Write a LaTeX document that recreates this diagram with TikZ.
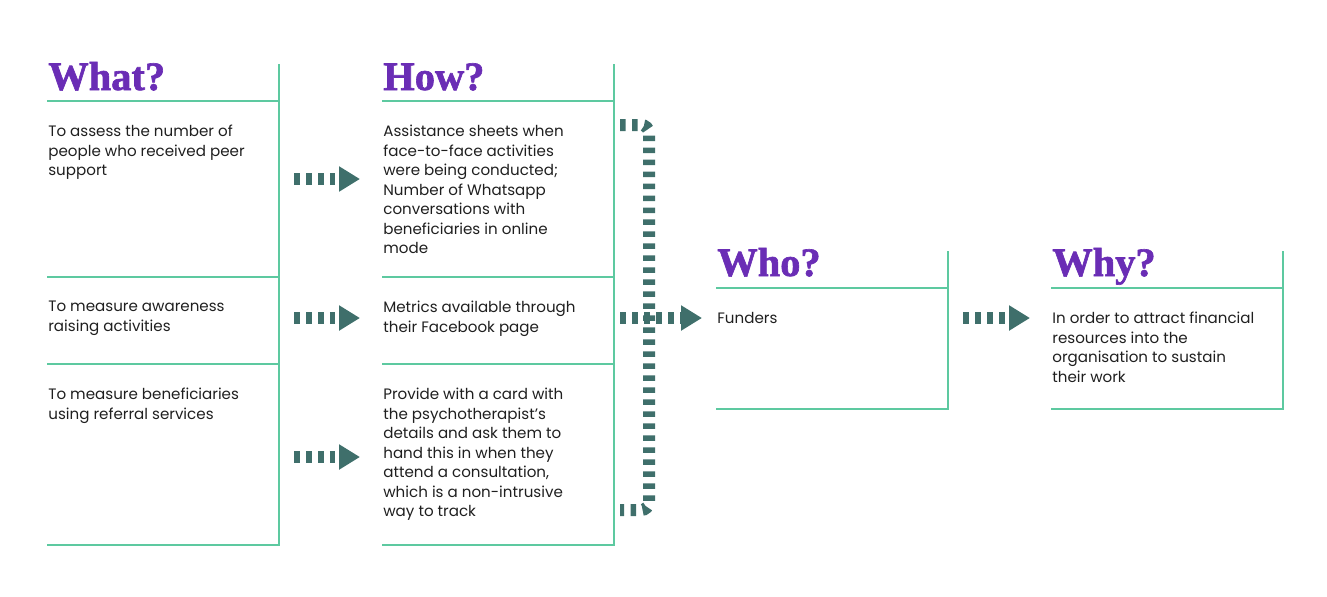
\documentclass[tikz,border=0pt]{standalone}
\usepackage{fontspec}
\setmainfont{Poppins}
\newfontfamily\headfont{Liberation Serif}[BoldFeatures={FakeBold=1.6}]
\usetikzlibrary{arrows.meta, positioning}
\definecolor{mint}{HTML}{5DC9A0}
\definecolor{grape}{HTML}{6A2DB5}
\definecolor{slate}{HTML}{3F6F6B}

\begin{document}
\begin{tikzpicture}[x=0.02cm, y=-0.02cm,
	rule/.style={draw=mint, line width=0.056cm, line cap=rect},
	head/.style={font=\headfont\bfseries\fontsize{23}{23}\selectfont, text=grape, anchor=base west, inner sep=0pt},
	body/.style={font=\fontsize{8.6}{11.1}\selectfont, text=black!88, anchor=north west, inner sep=0pt, align=left},
	flow/.style={slate, line width=0.24cm, dash pattern=on 0.11cm off 0.13cm, -{Triangle[length=0.42cm, width=0.48cm]}},
	bracket/.style={slate, line width=0.24cm, dash pattern=on 0.11cm off 0.13cm, rounded corners=0.16cm}]
	
	\useasboundingbox (0,0) rectangle (1327,596);
	
	% titulos
	\node[head] (what) at (48,90) {What?};
	\node[head] (how) at (383,90) {How?};
	\node[head] (who) at (717,276) {Who?};
	\node[head] (why) at (1052,276) {Why?};
	
	% colunas What, How
	\foreach \x in {48,383}{
		\draw[rule] (\x+231,65) -- (\x+231,545);
		\foreach \y in {101,277,364,545}
			\draw[rule] (\x,\y) -- (\x+231,\y);
	}
	
	% colunas Who, Why
	\foreach \x in {717,1052}{
		\draw[rule] (\x+231,252) -- (\x+231,409);
		\draw[rule] (\x,288) -- (\x+231,288);
		\draw[rule] (\x,409) -- (\x+231,409);
	}
	
	% textos What
	\node[body] (what1) at (48,125) {To assess the number of\\people who received peer\\support};
	\node[body] (what2) at (48,301) {To measure awareness\\raising activities};
	\node[body] (what3) at (48,388) {To measure beneficiaries\\using referral services};
	
	% textos How
	\node[body] (how1) at (383,125) {Assistance sheets when\\face-to-face activities\\were being conducted;\\Number of Whatsapp\\conversations with\\beneficiaries in online\\mode};
	\node[body] (how2) at (383,301) {Metrics available through\\their Facebook page};
	\node[body] (how3) at (383,388) {Provide with a card with\\the psychotherapist’s\\details and ask them to\\hand this in when they\\attend a consultation,\\which is a non-intrusive\\way to track};
	
	% textos Who, Why
	\node[body] (who1) at (717,312) {Funders};
	\node[body] (why1) at (1052,312) {In order to attract financial\\resources into the\\organisation to sustain\\their work};
	
	% pontos das setas
	\coordinate (a1) at (294,179);
	\coordinate (b1) at (360,179);
	\coordinate (a2) at (294,318);
	\coordinate (b2) at (360,318);
	\coordinate (a3) at (294,457);
	\coordinate (b3) at (360,457);
	\coordinate (a4) at (620,318);
	\coordinate (b4) at (702,318);
	\coordinate (a5) at (963,318);
	\coordinate (b5) at (1030,318);
	
	% colchete
	\coordinate (top) at (620,125);
	\coordinate (corner) at (649,510);
	\coordinate (bot) at (620,510);
	
	% setas
	\foreach \i in {1,...,5}
		\draw[flow] (a\i) -- (b\i);
	\draw[bracket] (top) -| (corner) -- (bot);
\end{tikzpicture}
\end{document}
